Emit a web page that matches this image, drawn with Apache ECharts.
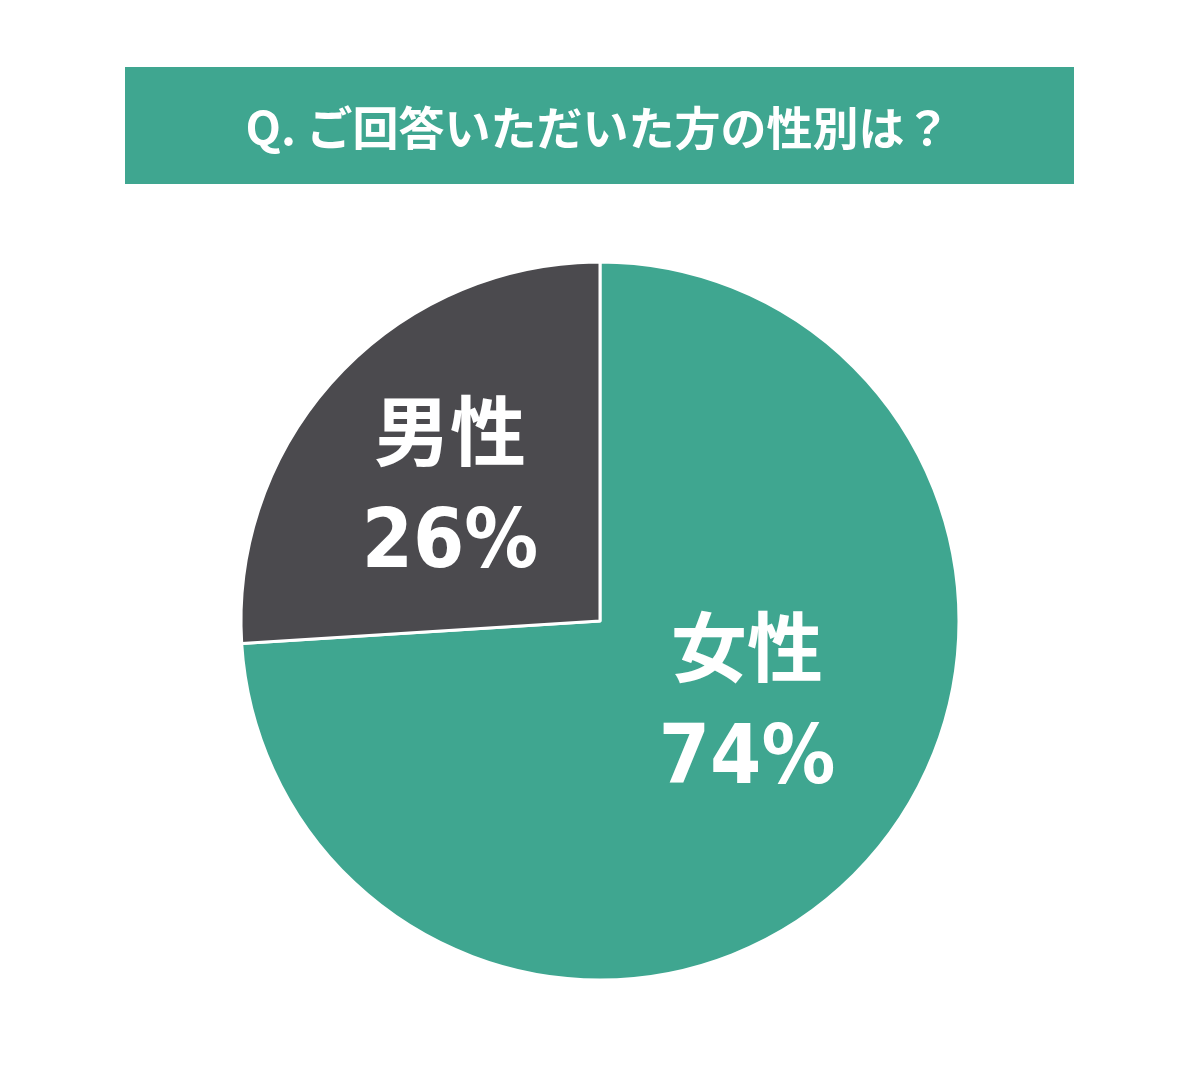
<!DOCTYPE html>
<html><head><meta charset="utf-8">
<script src="https://cdn.jsdelivr.net/npm/echarts@6/dist/echarts.min.js"></script>
<style>html,body{margin:0;padding:0;background:#fff}#c{width:1200px;height:1080px}</style>
</head><body><div id="c"></div>
<script>
const titleText = 'Q. ご回答いただいた方の性別は？';
const categories = ['女性', '男性'];
const values = [74, 26];
const sliceColors = ['#3fa690', '#4b4a4e'];
const labelOffsets = [[14, -34], [-17, 0]];

const chart = echarts.init(document.getElementById('c'));
chart.setOption({
  backgroundColor: '#ffffff',
  graphic: [
    { type: 'rect', shape: { x: 125, y: 67, width: 949, height: 117 }, style: { fill: '#3fa690' } },
    { type: 'text', x: 598, y: 128, style: { text: titleText, fill: '#ffffff', font: 'bold 46px "Noto Sans CJK JP"', align: 'center', verticalAlign: 'middle' } }
  ],
  series: [{
    type: 'pie',
    center: [600, 621],
    radius: [0, 359],
    startAngle: 90,
    clockwise: true,
    animation: false,
    silent: true,
    itemStyle: { borderColor: '#ffffff', borderWidth: 3 },
    label: {
      show: true,
      position: 'inside',
      formatter: '{n|{b}}\n{p|{c}%}',
      rich: {
        n: { fontFamily: '"Noto Sans CJK JP"', fontWeight: 700, fontSize: 76, color: '#ffffff', lineHeight: 100 },
        p: { fontFamily: '"DejaVu Sans Condensed",sans-serif', fontWeight: 'bold', fontSize: 82, color: '#ffffff', lineHeight: 130 }
      }
    },
    labelLine: { show: false },
    data: categories.map((name, i) => ({
      name, value: values[i],
      itemStyle: { color: sliceColors[i] },
      label: { offset: labelOffsets[i] }
    }))
  }]
});
</script></body></html>
